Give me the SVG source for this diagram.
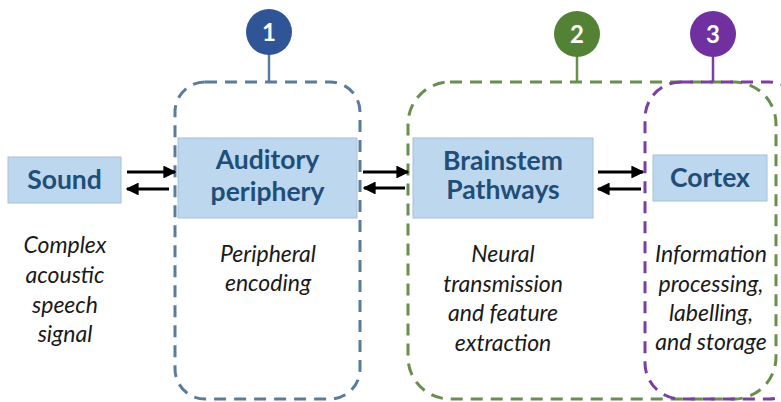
<svg xmlns="http://www.w3.org/2000/svg" width="781" height="402" viewBox="0 0 781 402">
<defs>
<style>
.box{fill:#BDD7EE;stroke:#A7C0D8;stroke-width:1}
.lbl{font-family:Lato,"Open Sans",sans-serif;font-weight:bold;font-size:26.5px;fill:#1F4E79;text-anchor:middle}
.desc{font-family:Lato,"Open Sans",sans-serif;font-style:italic;font-size:23px;fill:#1a1a1a;text-anchor:middle}
.num{font-family:Lato,"Open Sans",sans-serif;font-weight:bold;font-size:24px;fill:#ffffff;text-anchor:middle}
.grp{fill:none;stroke-width:3;stroke-dasharray:12 8}
.arr{stroke:#000;stroke-width:3;fill:none;marker-end:url(#ah)}
</style>
<marker id="ah" viewBox="0 0 10 10" refX="9" refY="5" markerWidth="4.3" markerHeight="4.3" orient="auto">
<path d="M0,0 L10,5 L0,10 z" fill="#000"/>
</marker>
</defs>
<rect width="781" height="402" fill="#ffffff"/>

<g id="group1">
<rect class="grp" x="175" y="82" width="185" height="317" rx="30" stroke="#5B7B9B"/>
<line x1="269" y1="54" x2="269" y2="82" stroke="#5B7B9B" stroke-width="2.5"/>
<circle cx="269" cy="32" r="23" fill="#2F5597"/>
<text class="num" x="269" y="41">1</text>
</g>

<g id="group2">
<rect class="grp" x="408" y="82" width="368" height="317" rx="42" stroke="#6A8E4E"/>
<line x1="577" y1="56" x2="577" y2="82" stroke="#6A8E4E" stroke-width="2.5"/>
<circle cx="577" cy="34" r="23" fill="#548235"/>
<text class="num" x="577" y="43">2</text>
</g>

<g id="group3">
<rect class="grp" x="645" y="82" width="160" height="317" rx="36" stroke="#7A3FA0"/>
<line x1="713" y1="56" x2="713" y2="82" stroke="#7A3FA0" stroke-width="2.5"/>
<circle cx="713" cy="34" r="23" fill="#7030A0"/>
<text class="num" x="713" y="43">3</text>
</g>

<g id="sound">
<rect class="box" x="8" y="157" width="113" height="46"/>
<text class="lbl" x="64.5" y="189">Sound</text>
<text class="desc" x="65" y="253">Complex</text>
<text class="desc" x="65" y="283">acoustic</text>
<text class="desc" x="65" y="313">speech</text>
<text class="desc" x="65" y="342">signal</text>
</g>

<g id="auditory">
<rect class="box" x="178" y="138" width="179" height="80"/>
<text class="lbl" x="267.5" y="169">Auditory</text>
<text class="lbl" x="267.5" y="201">periphery</text>
<text class="desc" x="268" y="262">Peripheral</text>
<text class="desc" x="268" y="291">encoding</text>
</g>

<g id="brainstem">
<rect class="box" x="413" y="138" width="180" height="80"/>
<text class="lbl" x="503" y="170">Brainstem</text>
<text class="lbl" x="503" y="199">Pathways</text>
<text class="desc" x="503" y="262">Neural</text>
<text class="desc" x="503" y="292">transmission</text>
<text class="desc" x="503" y="321">and feature</text>
<text class="desc" x="503" y="351">extraction</text>
</g>

<g id="cortex">
<rect class="box" x="653" y="155" width="114" height="46"/>
<text class="lbl" x="710" y="187">Cortex</text>
<text class="desc" x="711" y="262">Information</text>
<text class="desc" x="711" y="292">processing,</text>
<text class="desc" x="711" y="321">labelling,</text>
<text class="desc" x="711" y="350">and storage</text>
</g>

<g id="connectors">
<line class="arr" x1="127" y1="172" x2="175" y2="172"/>
<line class="arr" x1="169" y1="189" x2="127" y2="189"/>
<line class="arr" x1="363" y1="172" x2="408" y2="172"/>
<line class="arr" x1="405" y1="188" x2="364" y2="188"/>
<line class="arr" x1="598" y1="172" x2="643" y2="172"/>
<line class="arr" x1="641" y1="189" x2="598" y2="189"/>
</g>
</svg>
